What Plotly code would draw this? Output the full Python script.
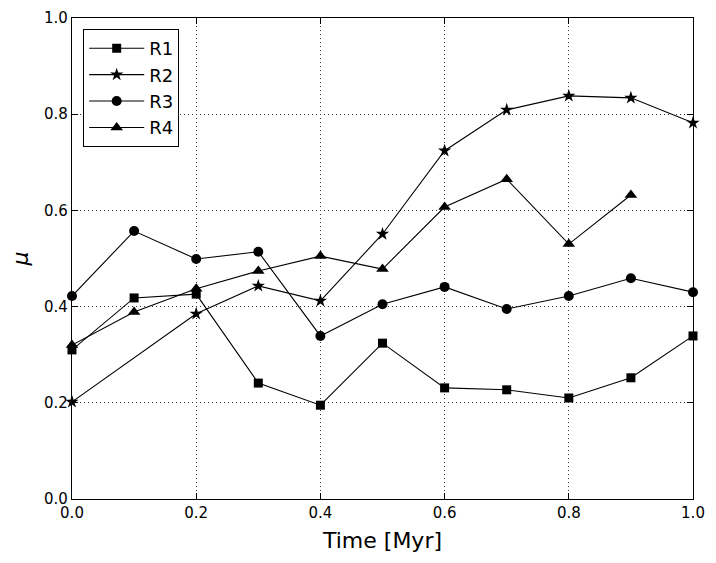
import plotly.graph_objects as go

# Time samples (Myr)
time = [0.0, 0.1, 0.2, 0.3, 0.4, 0.5, 0.6, 0.7, 0.8, 0.9, 1.0]

# mu values for each run (None = no sample)
r1 = [0.310, 0.418, 0.426, 0.241, 0.195, 0.324, 0.231, 0.227, 0.210, 0.252, 0.339]
r2 = [0.202, None, 0.385, 0.443, 0.412, 0.551, 0.724, 0.809, 0.838, 0.834, 0.782]
r3 = [0.422, 0.557, 0.499, 0.514, 0.339, 0.405, 0.441, 0.395, 0.422, 0.459, 0.430]
r4 = [0.320, 0.389, 0.437, 0.474, 0.505, 0.478, 0.607, 0.665, 0.530, 0.632, None]

series = [
    ("R1", r1, "square", 9),
    ("R2", r2, "star", 10),
    ("R3", r3, "circle", 10),
    ("R4", r4, "triangle-up", 11),
]

fig = go.Figure()
for name, vals, sym, size in series:
    xs = [t for t, v in zip(time, vals) if v is not None]
    ys = [v for v in vals if v is not None]
    fig.add_trace(go.Scatter(
        x=xs, y=ys, name=name, mode="lines+markers",
        line=dict(color="black", width=1.1),
        marker=dict(symbol=sym, size=size, color="black"),
        cliponaxis=False,
    ))

axis_common = dict(
    showline=True, linecolor="black", linewidth=1.2, mirror="ticks",
    ticks="inside", ticklen=6, tickcolor="black",
    showgrid=True, gridcolor="#333333", griddash="1px,3px", gridwidth=0.8,
    zeroline=False, tickfont=dict(size=15, color="black"),
    automargin=False,
)

# page body adds an 8px offset, so margins are shifted to compensate
fig.update_layout(
    width=716, height=563,
    paper_bgcolor="white", plot_bgcolor="white",
    font=dict(family="DejaVu Sans", color="black"),
    margin=dict(l=64, r=31, t=10, b=72),
    xaxis=dict(range=[0, 1], dtick=0.2, tickformat=".1f",
               title=dict(text="Time [Myr]", font=dict(size=22), standoff=11),
               **axis_common),
    yaxis=dict(range=[0, 1], dtick=0.2, tickformat=".1f",
               title=dict(text="<i>μ</i>", font=dict(size=22), standoff=12),
               **axis_common),
    legend=dict(x=0.018, y=0.977, xanchor="left", yanchor="top",
                bordercolor="black", borderwidth=1, bgcolor="white",
                font=dict(size=18), tracegroupgap=5, itemwidth=55),
    showlegend=True,
)

fig.write_html("out.html")
